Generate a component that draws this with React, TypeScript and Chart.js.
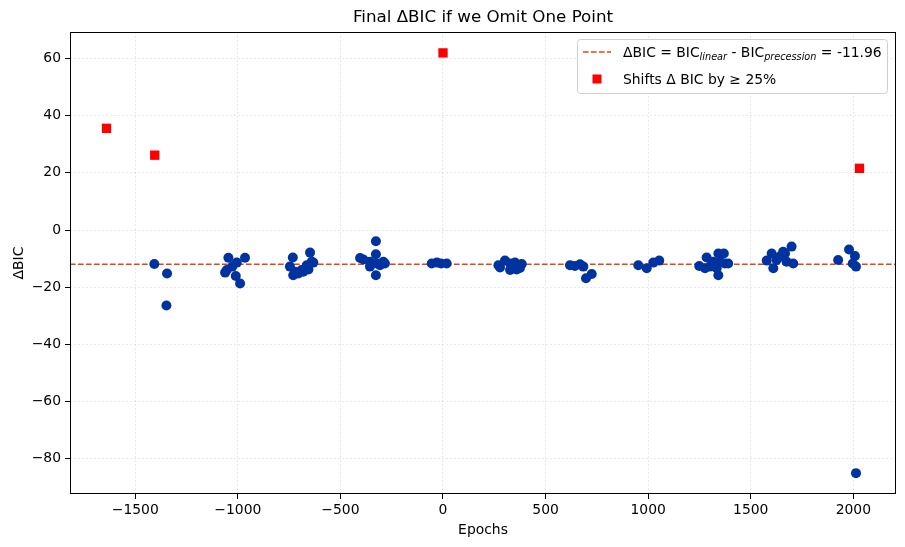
import React, { useEffect, useRef } from 'react';
import { Chart, registerables } from 'chart.js';

Chart.register(...registerables);

// ---- data ----
const blueEpochs = [
  -1407, -1345, -1348,
  -1046, -965, -1005, -1027, -1062, -1010, -989, -1054,
  -732, -648, -746, -730, -705, -681, -656, -632, -664, -721, -689, -640,
  -327, -327, -388, -404, -356, -323, -283, -307, -327, -356, -291,
  -55, -30, -10, 18,
  270, 302, 327, 351, 384, 327, 359, 278, 375,
  619, 643, 668, 684, 725, 697,
  952, 993, 1025, 1054,
  1249, 1285, 1277, 1317, 1342, 1369, 1350, 1374, 1334, 1342, 1390, 1301,
  1578, 1602, 1610, 1642, 1667, 1699, 1675, 1707, 1626, 1658,
  1926, 1979, 2008, 1997, 2013, 2013,
];
const blueDeltaBIC = [
  -11.9, -15.2, -26.4,
  -9.7, -9.7, -11.4, -12.8, -14.9, -16.1, -18.7, -14.0,
  -9.6, -7.9, -12.8, -15.8, -15.2, -14.6, -13.8, -11.4, -12.3, -14.6, -14.0, -11.1,
  -3.9, -8.5, -10.3, -9.8, -11.1, -11.7, -11.7, -12.3, -15.8, -12.8, -11.1,
  -11.7, -11.4, -11.7, -11.7,
  -12.3, -10.7, -11.7, -11.4, -11.9, -14.0, -13.8, -13.1, -13.3,
  -12.3, -12.6, -12.0, -12.8, -15.4, -16.9,
  -12.3, -13.4, -11.4, -10.7,
  -12.6, -9.6, -13.4, -11.1, -8.2, -8.2, -11.1, -11.7, -13.4, -15.8, -11.7, -12.8,
  -10.7, -8.2, -13.4, -9.3, -8.2, -5.8, -11.1, -11.7, -10.5, -7.6,
  -10.5, -6.8, -9.1, -11.7, -12.8, -85.1,
];
const redEpochs = [-1640, -1405, 0, 2030];
const redDeltaBIC = [35.6, 26.2, 62.0, 21.6];
const meanDeltaBIC = -11.96;

const xTicks = [-1500, -1000, -500, 0, 500, 1000, 1500, 2000];
const yTicks = [-80, -60, -40, -20, 0, 20, 40, 60];
const xLimits = [-1818, 2208];
const yLimits = [-92.4, 69.3];

const titleText = 'Final ΔBIC if we Omit One Point';
const xLabel = 'Epochs';
const yLabel = 'ΔBIC';
const legendRedText = 'Shifts Δ BIC by ≥ 25%';

// ---- styles ----
const FONT = "'DejaVu Sans', sans-serif";
const BLUE = '#0033a0';
const RED = '#ff0000';
const DASH = '#dd4713';
const GRID = 'rgba(190,190,190,0.35)';

const fmt = (v: number) => (v < 0 ? '\u2212' + Math.abs(v) : String(v));

const bgPlugin = {
  id: 'bg',
  beforeDraw(chart: any) {
    const { ctx } = chart;
    ctx.save();
    ctx.fillStyle = '#fff';
    ctx.fillRect(0, 0, chart.width, chart.height);
    ctx.restore();
  },
};

const framePlugin = {
  id: 'frame',
  afterDraw(chart: any) {
    const { ctx, chartArea: a } = chart;
    ctx.save();
    ctx.strokeStyle = '#000';
    ctx.lineWidth = 1;
    ctx.strokeRect(Math.round(a.left) + 0.5, Math.round(a.top) + 0.5, Math.round(a.right - a.left) - 1, Math.round(a.bottom - a.top) - 1);
    ctx.restore();
  },
};

const legendPlugin = {
  id: 'customLegend',
  afterDraw(chart: any) {
    const { ctx } = chart;
    const x0 = 577.5, y0 = 39.5, w = 310, h = 54;
    ctx.save();
    ctx.beginPath();
    (ctx as any).roundRect(x0, y0, w, h, 3);
    ctx.fillStyle = 'rgba(255,255,255,0.85)';
    ctx.fill();
    ctx.strokeStyle = '#d0d0d0';
    ctx.lineWidth = 1;
    ctx.stroke();

    // dashed line sample
    ctx.beginPath();
    ctx.setLineDash([5.6, 2.4]);
    ctx.strokeStyle = DASH;
    ctx.lineWidth = 1.6;
    ctx.moveTo(583, 52);
    ctx.lineTo(611, 52);
    ctx.stroke();
    ctx.setLineDash([]);

    // first label with subscripts
    const parts: { t: string; sub?: boolean }[] = [
      { t: 'ΔBIC = BIC' },
      { t: 'linear', sub: true },
      { t: ' - BIC' },
      { t: 'precession', sub: true },
      { t: ' = ' + meanDeltaBIC.toFixed(2) },
    ];
    let x = 623;
    const base = 57;
    ctx.fillStyle = '#000';
    ctx.textBaseline = 'alphabetic';
    ctx.textAlign = 'left';
    for (const p of parts) {
      ctx.font = p.sub ? `italic 9.7px ${FONT}` : `13.9px ${FONT}`;
      ctx.fillText(p.t, x, p.sub ? base + 3 : base);
      x += ctx.measureText(p.t).width;
    }

    // red square sample
    ctx.fillStyle = RED;
    ctx.fillRect(597 - 4.5, 79 - 4.5, 9, 9);
    ctx.fillStyle = '#000';
    ctx.font = `13.9px ${FONT}`;
    ctx.fillText(legendRedText, 623, 84);
    ctx.restore();
  },
};

export default function App() {
  const ref = useRef<HTMLCanvasElement>(null);

  useEffect(() => {
    if (!ref.current) return;
    const blue = blueEpochs.map((x, i) => ({ x, y: blueDeltaBIC[i] }));
    const red = redEpochs.map((x, i) => ({ x, y: redDeltaBIC[i] }));
    const line = [
      { x: xLimits[0], y: meanDeltaBIC },
      { x: xLimits[1], y: meanDeltaBIC },
    ];
    const tickFont = { family: FONT, size: 13.9 };
    const chart = new Chart(ref.current, {
      type: 'scatter',
      data: {
        datasets: [
          {
            type: 'scatter',
            label: legendRedText,
            data: red,
            pointStyle: 'rect',
            pointRadius: 6.6,
            pointBackgroundColor: RED,
            pointBorderWidth: 0,
            borderColor: RED,
            order: 0,
          } as any,
          {
            type: 'scatter',
            label: 'points',
            data: blue,
            pointStyle: 'circle',
            pointRadius: 5,
            pointBackgroundColor: BLUE,
            pointBorderWidth: 0,
            borderColor: BLUE,
            order: 1,
          } as any,
          {
            type: 'line',
            label: 'mean',
            data: line,
            borderColor: DASH,
            borderWidth: 1.6,
            borderDash: [5.6, 2.4],
            pointRadius: 0,
            fill: false,
            order: 2,
          } as any,
        ],
      },
      options: {
        animation: false,
        responsive: false,
        devicePixelRatio: 1,
        layout: { padding: { left: 0, right: 9, top: 0, bottom: 0 } },
        plugins: {
          legend: { display: false },
          tooltip: { enabled: false },
          title: {
            display: true,
            fullSize: false,
            text: titleText,
            color: '#000',
            font: { family: FONT, size: 16.7, weight: 'normal' as any },
            padding: { top: 8, bottom: 4 },
          },
        },
        scales: {
          x: {
            type: 'linear',
            min: xLimits[0],
            max: xLimits[1],
            afterBuildTicks: (s: any) => {
              s.ticks = xTicks.map((v) => ({ value: v }));
            },
            afterFit: (s: any) => {
              s.height = 53;
            },
            grid: { color: GRID, lineWidth: 1, tickLength: 5, tickColor: '#000' },
            border: { display: false, dash: [2, 2] },
            ticks: { color: '#000', font: tickFont, padding: 3, maxRotation: 0, callback: (v: any) => fmt(Number(v)) },
            title: { display: true, text: xLabel, color: '#000', font: tickFont, padding: { top: 4, bottom: 8.5 } },
          },
          y: {
            type: 'linear',
            min: yLimits[0],
            max: yLimits[1],
            afterBuildTicks: (s: any) => {
              s.ticks = yTicks.map((v) => ({ value: v }));
            },
            afterFit: (s: any) => {
              s.width = 70;
            },
            grid: { color: GRID, lineWidth: 1, tickLength: 5, tickColor: '#000' },
            border: { display: false, dash: [2, 2] },
            ticks: { color: '#000', font: tickFont, padding: 4, callback: (v: any) => fmt(Number(v)) },
            title: { display: true, text: yLabel, color: '#000', font: tickFont, padding: { top: 11, bottom: 0 } },
          },
        },
      },
      plugins: [bgPlugin, framePlugin, legendPlugin],
    } as any);
    return () => chart.destroy();
  }, []);

  return (
    <div style={{ position: 'absolute', left: 0, top: 0, width: 905, height: 547 }}>
      <canvas ref={ref} width={905} height={547} style={{ display: 'block', width: 905, height: 547 }} />
    </div>
  );
}
